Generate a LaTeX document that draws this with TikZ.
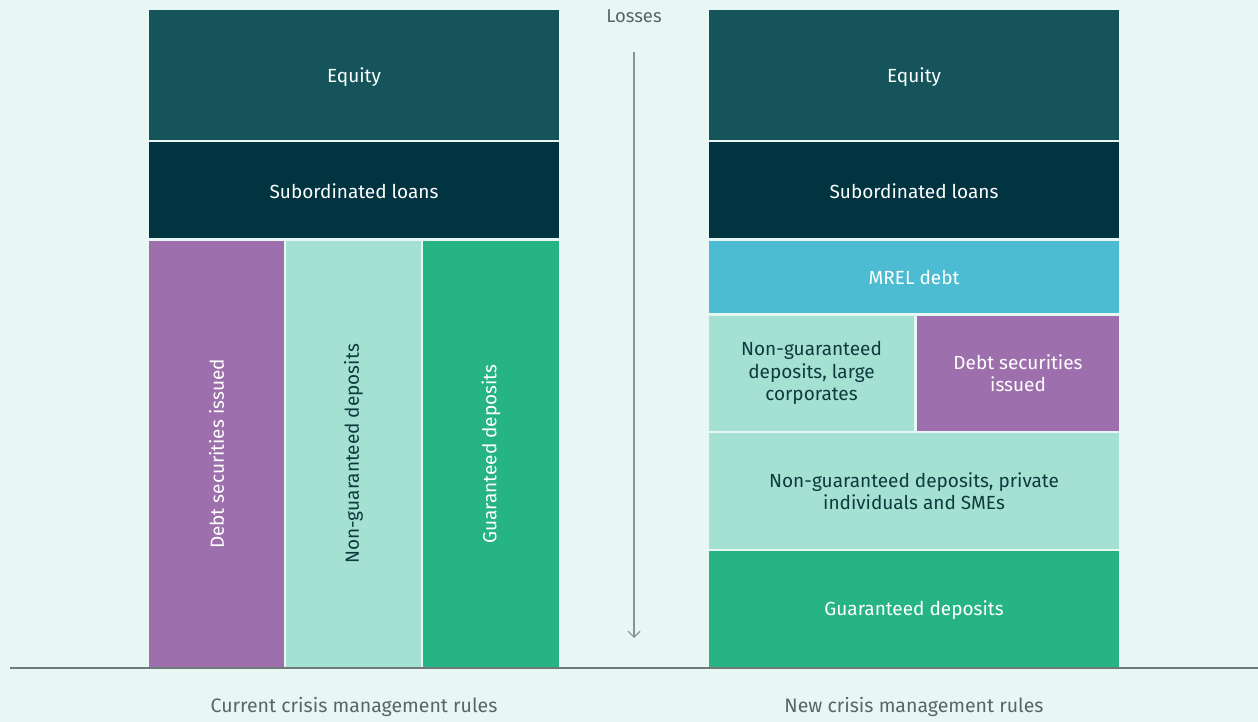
\documentclass[tikz,border=0pt]{standalone}
\usepackage{fontspec}
\setmainfont{Fira Sans}
\usetikzlibrary{arrows.meta}
\definecolor{bg}{HTML}{E9F7F4}
\definecolor{equity}{HTML}{15545A}
\definecolor{subord}{HTML}{003440}
\definecolor{purple}{HTML}{9E6FAD}
\definecolor{mint}{HTML}{A5E1D3}
\definecolor{green}{HTML}{27B484}
\definecolor{mrel}{HTML}{4DBCD3}
\definecolor{darktext}{HTML}{0E3A3E}
\definecolor{axis}{HTML}{6D7A78}
\definecolor{graytext}{HTML}{5A6666}
\tikzset{
  block/.style={fill=#1, draw=none},
  lbl/.style={font=\fontsize{19}{22.5}\selectfont, align=center, text=white},
  dlbl/.style={lbl, text=darktext},
  caption/.style={font=\fontsize{19.5}{22}\selectfont, text=graytext},
}
\begin{document}
\begin{tikzpicture}[x=1pt,y=-1pt]
\fill[bg] (0,0) rectangle (1258,722);
\useasboundingbox (0,0) rectangle (1258,722);

% current rules column
\fill[equity] (149,10) rectangle (559,140);
\node[lbl] (eqA) at (354,77) {Equity};
\fill[subord] (149,142) rectangle (559,238);
\node[lbl] (subA) at (354,191) {Subordinated loans};
\fill[purple] (149,241) rectangle (284,668);
\node[lbl, rotate=90] (debtA) at (216.5,454) {Debt securities issued};
\fill[mint] (286,241) rectangle (421,668);
\node[dlbl, rotate=90] (ngA) at (353.5,454) {Non-guaranteed deposits};
\fill[green] (423,241) rectangle (559,668);
\node[lbl, rotate=90] (gA) at (491,454) {Guaranteed deposits};

% new rules column
\fill[equity] (709,10) rectangle (1119,140);
\node[lbl] (eqB) at (914,77) {Equity};
\fill[subord] (709,142) rectangle (1119,238);
\node[lbl] (subB) at (914,191) {Subordinated loans};
\fill[mrel] (709,241) rectangle (1119,313);
\node[lbl] (mrel) at (914,277) {MREL debt};
\fill[mint] (709,316) rectangle (914,431);
\node[dlbl] (ngLarge) at (811.5,373) {Non-guaranteed\\deposits, large\\corporates};
\fill[purple] (917,316) rectangle (1119,431);
\node[lbl] (debtB) at (1018,373) {Debt securities\\issued};
\fill[mint] (709,433) rectangle (1119,549);
\node[dlbl] (ngPriv) at (914,491) {Non-guaranteed deposits, private\\individuals and SMEs};
\fill[green] (709,551) rectangle (1119,668);
\node[lbl] (gB) at (914,610) {Guaranteed deposits};

% loss direction
\node[font=\fontsize{18.5}{22}\selectfont, text=graytext] (loss) at (634,16) {Losses};
\coordinate (arrTop) at (634,52);
\coordinate (arrEnd) at (634,638);
\draw[axis!80, line width=1.2pt, -{Straight Barb[length=6pt,width=12pt]}] (arrTop) -- (arrEnd);

% baseline
\coordinate (axL) at (10,668);
\coordinate (axR) at (1258,668);
\draw[axis, line width=1.6pt] (axL) -- (axR);

\node[caption] (capA) at (354,707) {Current crisis management rules};
\node[caption] (capB) at (914,707) {New crisis management rules};
\end{tikzpicture}
\end{document}
